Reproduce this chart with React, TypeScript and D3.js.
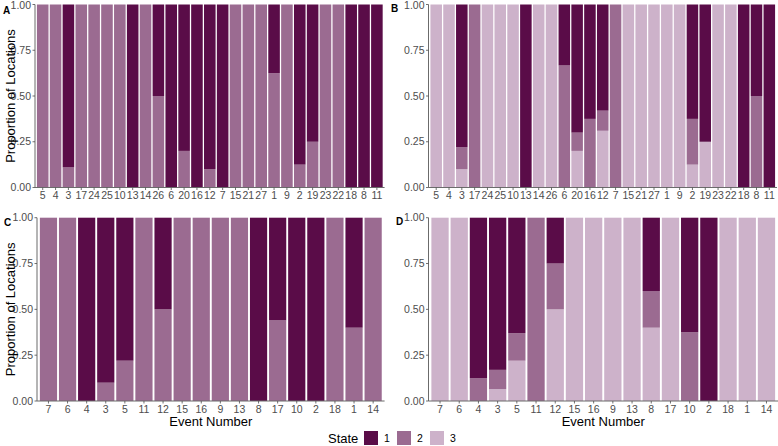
import React from "react";
import * as d3 from "d3";

const eventsTop = ["5","4","3","17","24","25","10","13","14","26","6","20","16","12","7","15","21","27","1","9","2","19","23","22","18","8","11"];
const eventsBottom = ["7","6","4","3","5","11","12","15","16","9","13","8","17","10","2","18","1","14"];

const stateA1 = [0,0,0.89,0,0,0,0,1,0,0.5,1,0.8,1,0.9,1,0,0,0,0.375,0,0.875,0.75,0,0,1,1,1];
const stateA2 = [1,1,0.11,1,1,1,1,0,1,0.5,0,0.2,0,0.1,0,1,1,1,0.625,1,0.125,0.25,1,1,0,0,0];
const stateA3 = [0,0,0,0,0,0,0,0,0,0,0,0,0,0,0,0,0,0,0,0,0,0,0,0,0,0,0];

const stateB1 = [0,0,0.78,0,0,0,0,1,0,0,0.333,0.7,0.625,0.58,0,0,0,0,0,0,0.625,0.75,0,0,1,0.5,1];
const stateB2 = [0,0,0.12,1,0,0,0,0,0,0,0.667,0.1,0.375,0.11,1,0,0,0,0,0,0.25,0,0,0,0,0.5,0];
const stateB3 = [1,1,0.1,0,1,1,1,0,1,1,0,0.2,0,0.31,0,1,1,1,1,1,0.125,0.25,1,1,0,0,0];

const stateC1 = [0,0,1,0.9,0.78,0,0.5,0,0,0,0,1,0.56,1,1,0,0.6,0];
const stateC2 = [1,1,0,0.1,0.22,1,0.5,1,1,1,1,0,0.44,0,0,1,0.4,1];
const stateC3 = [0,0,0,0,0,0,0,0,0,0,0,0,0,0,0,0,0,0];

const stateD1 = [0,0,0.875,0.83,0.63,0,0.25,0,0,0,0,0.4,0,0.625,1,0,0,0];
const stateD2 = [0,0,0.125,0.105,0.15,1,0.25,0,0,0,0,0.2,0,0.375,0,0,0,0];
const stateD3 = [1,1,0,0.065,0.22,0,0.5,1,1,1,1,0.4,1,0,0,1,1,1];

const yTicks = [0, 0.25, 0.5, 0.75, 1];
const stateKeys = ["1", "2", "3"];
const stateColors = ["#5a0c48", "#9b6b91", "#cdb2ca"];

const FONT = "'Liberation Sans', Arial, sans-serif";

type PanelProps = {
  tag: string;
  events: string[];
  s1: number[];
  s2: number[];
  s3: number[];
  x0: number;
  x1: number;
  yTop: number;
  yBot: number;
  yTitle: boolean;
  xTitle: boolean;
  tagX: number;
  tagY: number;
};

function Panel(p: PanelProps) {
  const x = d3.scaleBand<string>().domain(p.events).range([p.x0, p.x1]).paddingInner(0.1).paddingOuter(0.15);
  const y = d3.scaleLinear().domain([0, 1]).range([p.yBot, p.yTop]);
  const rows = p.events.map((e, i) => ({ ev: e, "1": p.s1[i], "2": p.s2[i], "3": p.s3[i] }));
  const stack = d3.stack<any>().keys(["3", "2", "1"]);
  const series = stack(rows);
  const colorOf = (k: string) => stateColors[stateKeys.indexOf(k)];
  return (
    <g>
      {series.map((s) => (
        <g key={s.key} fill={colorOf(s.key)}>
          {s.map((d, i) =>
            d[1] - d[0] > 0 ? (
              <rect key={i} x={x(rows[i].ev)} width={x.bandwidth()} y={y(d[1])} height={y(d[0]) - y(d[1])} />
            ) : null
          )}
        </g>
      ))}
      <line x1={p.x0} x2={p.x0} y1={p.yTop} y2={p.yBot} stroke="#6b6b6b" strokeWidth={1} />
      <line x1={p.x0} x2={p.x1} y1={p.yBot} y2={p.yBot} stroke="#6b6b6b" strokeWidth={1} />
      {yTicks.map((t) => (
        <g key={t}>
          <line x1={p.x0 - 2.5} x2={p.x0} y1={y(t)} y2={y(t)} stroke="#4d4d4d" strokeWidth={0.8} />
          <text x={p.x0 - 4} y={Math.max(y(t), 5.5)} dy="0.35em" textAnchor="end" fontSize={10.5} fill="#4d4d4d" fontFamily={FONT}>
            {t.toFixed(2)}
          </text>
        </g>
      ))}
      {p.events.map((e) => (
        <g key={e}>
          <line x1={x(e)! + x.bandwidth() / 2} x2={x(e)! + x.bandwidth() / 2} y1={p.yBot} y2={p.yBot + 2.5} stroke="#4d4d4d" strokeWidth={0.8} />
          <text x={x(e)! + x.bandwidth() / 2} y={p.yBot + 11.5} textAnchor="middle" fontSize={10.5} fill="#4d4d4d" fontFamily={FONT}>
            {e}
          </text>
        </g>
      ))}
      {p.yTitle && (
        <text
          transform={`translate(10,${(p.yTop + p.yBot) / 2}) rotate(-90)`}
          textAnchor="middle"
          dy="0.35em"
          fontSize={13}
          fill="#000"
          fontFamily={FONT}
        >
          Proportion of Locations
        </text>
      )}
      {p.xTitle && (
        <text x={(p.x0 + p.x1) / 2} y={p.yBot + 25} textAnchor="middle" fontSize={13} fill="#000" fontFamily={FONT}>
          Event Number
        </text>
      )}
      <text x={p.tagX} y={p.tagY} fontSize={10} fontWeight="bold" fill="#000" fontFamily={FONT}>
        {p.tag}
      </text>
    </g>
  );
}

export default function App() {
  const keyX = [364, 397, 430];
  return (
    <svg width={778} height={446} style={{ position: "absolute", left: 0, top: 0, background: "#fff" }}>
      <rect width={778} height={446} fill="#fff" />
      <Panel tag="A" events={eventsTop} s1={stateA1} s2={stateA2} s3={stateA3} x0={35} x1={384.6} yTop={4.5} yBot={187.5} yTitle xTitle={false} tagX={3} tagY={13.5} />
      <Panel tag="B" events={eventsTop} s1={stateB1} s2={stateB2} s3={stateB3} x0={428.5} x1={777} yTop={4.5} yBot={187.5} yTitle={false} xTitle={false} tagX={391} tagY={12} />
      <Panel tag="C" events={eventsBottom} s1={stateC1} s2={stateC2} s3={stateC3} x0={37} x1={384.6} yTop={217.7} yBot={401} yTitle xTitle tagX={4} tagY={225.5} />
      <Panel tag="D" events={eventsBottom} s1={stateD1} s2={stateD2} s3={stateD3} x0={428.5} x1={778} yTop={217.7} yBot={401} yTitle={false} xTitle tagX={396} tagY={225} />
      <text x={328} y={442.5} fontSize={13} fill="#000" fontFamily={FONT}>State</text>
      {stateKeys.map((k, i) => (
        <g key={k}>
          <rect x={keyX[i]} y={431} width={14} height={14} fill={stateColors[i]} />
          <text x={keyX[i] + 20} y={442} fontSize={10.5} fill="#000" fontFamily={FONT}>{k}</text>
        </g>
      ))}
    </svg>
  );
}
